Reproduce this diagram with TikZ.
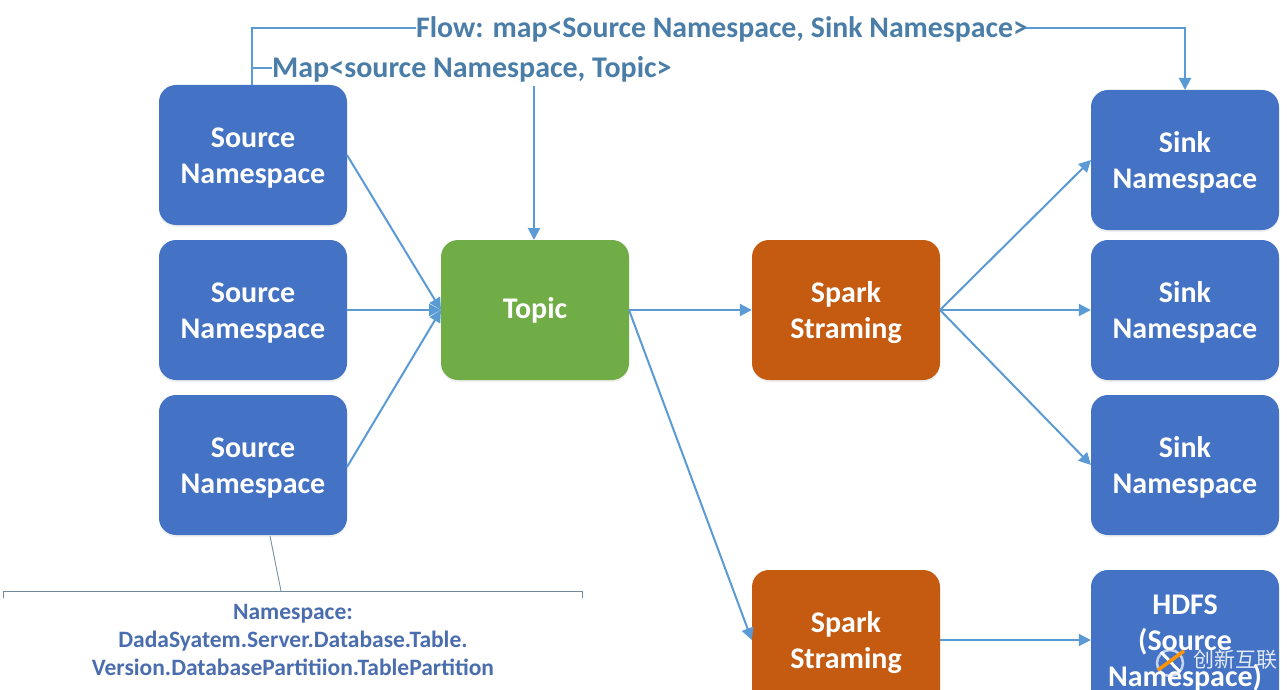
\documentclass[tikz,border=0pt]{standalone}
\usepackage{fontspec}
\setmainfont{Carlito}
\newfontfamily\cjkfont{Noto Sans CJK SC}
\usetikzlibrary{arrows.meta,calc,shadows}
\definecolor{boxblue}{HTML}{4472C4}
\definecolor{boxgreen}{HTML}{70AD47}
\definecolor{boxorange}{HTML}{C55A11}
\definecolor{linkblue}{HTML}{5B9BD5}
\definecolor{labelblue}{HTML}{4A7EA8}
\definecolor{notetext}{HTML}{4A6DAE}
\definecolor{notegray}{HTML}{6F8A9C}
\newcommand{\twolines}[2]{\strut\\[-36pt]#1\\#2}
\tikzset{
  x=1pt,y=-1pt,
  card/.style={minimum width=188pt,minimum height=140pt,rounded corners=17pt,
    text=white,font=\fontsize{30}{36}\selectfont\bfseries,align=center,inner sep=0pt,
    drop shadow={shadow xshift=0pt,shadow yshift=-2pt,opacity=.12}},
  srcsink/.style={card,fill=boxblue},
  topicbox/.style={card,fill=boxgreen},
  sparkbox/.style={card,fill=boxorange},
  link/.style={draw=linkblue,line width=2pt,-{Triangle[length=12pt,width=12pt]}},
  plainlink/.style={draw=linkblue,line width=2pt},
  toplabel/.style={text=labelblue,font=\fontsize{29.8}{32}\selectfont\bfseries,inner sep=0pt},
  note/.style={text=notetext,font=\fontsize{23.5}{28}\selectfont\bfseries,align=center,inner sep=0pt},
  notebar/.style={draw=notegray,line width=.8pt},
}
\begin{document}
\begin{tikzpicture}
\clip (0,0) rectangle (1287,690);
\fill[white] (0,0) rectangle (1287,690);
\node[srcsink] (s1) at (253,155) {\twolines{Source}{Namespace}};
\node[srcsink] (s2) at (253,310) {\twolines{Source}{Namespace}};
\node[srcsink] (s3) at (253,465) {\twolines{Source}{Namespace}};
\node[topicbox] (topic) at (535,310) {\raisebox{-3pt}{Topic}};
\node[sparkbox] (sp1) at (846,310) {\twolines{Spark}{Straming}};
\node[sparkbox] (sp2) at (846,640) {\twolines{Spark}{Straming}};
\node[srcsink] (k1) at (1185,160) {\twolines{Sink}{Namespace}};
\node[srcsink] (k2) at (1185,310) {\twolines{Sink}{Namespace}};
\node[srcsink] (k3) at (1185,465) {\twolines{Sink}{Namespace}};
\node[srcsink] (hdfs) at (1185,640) {\rule{0pt}{25pt}HDFS\\(Source\\Namespace)};

\node[toplabel,anchor=west] (flow) at (416,29) {Flow: map<Source Namespace, Sink Namespace>};
\node[toplabel,anchor=west,font=\fontsize{30}{32}\selectfont\bfseries] (map) at (272,69) {Map<source Namespace, Topic>};
\node[note] (nsnote) at (293,640) {Namespace:\\DadaSyatem.Server.Database.Table.\\Version.DatabasePartitiion.TablePartition};

\coordinate (s1top) at (252,85);
\coordinate (flowcorner) at (252,28);
\coordinate (mapjoin) at (252,68);
\coordinate (flowin) at (416,28);
\coordinate (mapin) at (272,68);
\coordinate (flowout) at (1026,28);
\coordinate (sinkcorner) at (1185,28);
\coordinate (mapdown) at (534,86);
\coordinate (topictop) at (534,240);
\coordinate (sinktop) at (1185,90);
\draw[plainlink] (s1top) -- (flowcorner) -- (flowin);
\draw[plainlink] (mapjoin) -- (mapin);
\draw[link] (flowout) -- (sinkcorner) -- (sinktop);
\draw[link] (mapdown) -- (topictop);

\coordinate (tw) at (441,310);
\coordinate (te) at (629,310);
\coordinate (a1) at (347,155);
\coordinate (a3) at (347,467);
\draw[link] (a1) -- (tw);
\draw[link] (s2.east) -- (tw);
\draw[link] (a3) -- (tw);
\draw[link] (te) -- (sp1.west);
\draw[link] (te) -- (sp2.west);

\coordinate (se) at (940,310);
\coordinate (k1w) at (1091,160);
\coordinate (k3w) at (1091,465);
\draw[link] (se) -- (k1w);
\draw[link] (se) -- (k2.west);
\draw[link] (se) -- (k3w);
\draw[link] (sp2.east) -- (hdfs.west);

\coordinate (notefrom) at (270,536);
\coordinate (noteto) at (281,591);
\coordinate (barl) at (3,591);
\coordinate (barr) at (582,591);
\draw[notebar] (notefrom) -- (noteto);
\draw[notebar] ($(barl)+(0,7)$) -- (barl) -- (barr) -- ($(barr)+(0,7)$);

% watermark
\draw[white,opacity=.7,line width=2.5pt] (1170,663) circle (13pt);
\draw[white,line width=3pt] (1161,652) -- (1180,672);
\draw[orange!85!yellow,line width=3.5pt] (1158,670) -- (1184,651);
\node[inner sep=0pt,text=white,opacity=.85,font=\cjkfont\fontsize{21}{22}\selectfont] (wm) at (1235,660) {创新互联};
\end{tikzpicture}
\end{document}
